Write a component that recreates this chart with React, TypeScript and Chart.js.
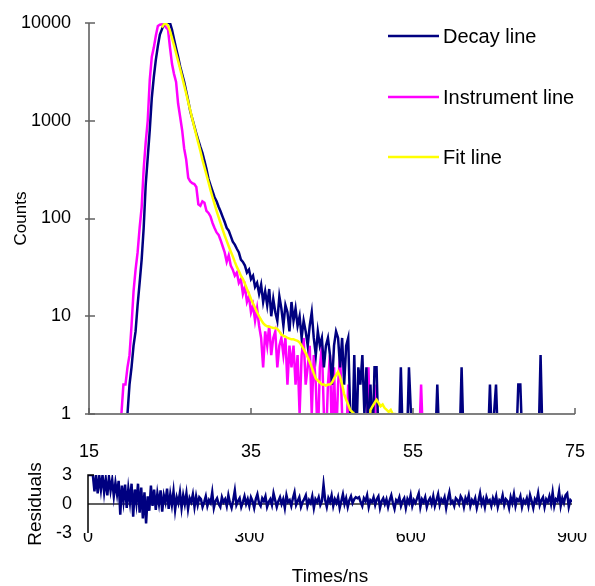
import React, { useEffect, useRef } from "react";
import { Chart, registerables } from "chart.js";

Chart.register(...registerables);

const FONT_FAMILY = "'Liberation Sans', Arial, Helvetica, sans-serif";

// ---- time axis of the decay panel (ns) ----
const TIME_STEP_NS = 0.25;
const DECAY_START_NS = 19;
const INSTRUMENT_START_NS = 19;
const FIT_START_NS = 24;
const X_TICKS = [15, 35, 55, 75];
const Y_TICKS = [1, 10, 100, 1000, 10000];
// zero counts cannot sit on a log axis: they are drawn just below the floor (clipped)
const LOG_ZERO_FLOOR = 0.5;

// counts, one value per 0.25 ns (rows = 1 ns)
const decayCounts = [
  0, 0, 0, 1,
  2, 3, 5, 7,
  13, 22, 38, 80,
  220, 420, 800, 1700,
  2800, 4200, 5800, 7600,
  8600, 9700, 10000, 10000,
  10000, 8500, 6800, 5500,
  4500, 3600, 3000, 2500,
  2000, 1600, 1250, 1050,
  880, 740, 630, 540,
  470, 390, 320, 255,
  220, 190, 165, 150,
  132, 118, 104, 92,
  80, 75, 66, 58,
  54, 49, 45, 38,
  36, 33, 28, 30,
  24, 26, 20, 22,
  17, 21, 14, 18,
  13, 19, 10, 15,
  11, 9, 16, 12,
  8, 13, 11, 7,
  14, 9, 12, 8,
  10, 6, 9, 7,
  5, 8, 11, 6,
  4, 7, 5, 6,
  3, 5, 6, 4,
  2, 5, 7, 6,
  3, 6, 2, 5,
  6, 1, 0, 4,
  0, 3, 2, 4,
  1, 3, 0, 2,
  0, 3, 3, 0,
  0, 0, 0, 1,
  0, 0, 0, 0,
  0, 0, 3, 0,
  0, 0, 3, 1,
  0, 0, 0, 0,
  0, 0, 0, 0,
  0, 0, 0, 0,
  2, 0, 0, 0,
  0, 0, 0, 0,
  0, 0, 0, 0,
  3, 0, 0, 0,
  0, 0, 0, 0,
  0, 0, 0, 0,
  0, 0, 2, 0,
  1, 2, 0, 0,
  0, 0, 0, 0,
  0, 0, 0, 0,
  2, 2, 0, 0,
  0, 0, 0, 0,
  0, 0, 0, 4,
  0, 0, 0, 0,
  0, 0, 0, 0,
  0, 0, 0, 0,
  0, 0, 0, 1,
  0,
];

const instrumentCounts = [
  1, 2, 2, 3,
  4, 8, 18, 30,
  45, 80, 130, 320,
  600, 1000, 2600, 4500,
  5600, 7400, 9300, 9600,
  9700, 9600, 9000, 8600,
  5600, 3800, 3000, 2500,
  1500, 1100, 800, 520,
  400, 260, 240, 230,
  225, 210, 140, 135,
  150, 145, 120, 114,
  105, 90, 80, 72,
  68, 60, 52, 45,
  36, 42, 33, 30,
  26, 28, 22, 24,
  17, 20, 14, 16,
  11, 13, 9, 12,
  8, 6, 3, 7,
  5, 8, 4, 6,
  7, 3, 5, 6,
  4, 6, 2, 5,
  3, 5, 2, 4,
  1, 4, 6, 2,
  3, 5, 1, 4,
  2, 0, 3, 5,
  1, 0, 2, 4,
  0, 3, 0, 2,
  4, 1, 0, 0,
  2, 0, 0, 0,
  0, 0, 0, 0,
  0, 0, 3, 0,
  0, 2, 0, 0,
  0, 0, 0, 0,
  0, 0, 0, 0,
  0, 0, 0, 0,
  0, 0, 0, 0,
  0, 0, 0, 0,
  2, 0, 0, 0,
  0,
];

const fitCounts = [
  9000, 9700, 9900, 9400,
  8300, 7000, 5900, 4900,
  4100, 3400, 2800, 2300,
  1900, 1550, 1280, 1050,
  860, 710, 590, 490,
  400, 335, 280, 235,
  195, 165, 140, 120,
  103, 89, 77, 67,
  59, 52, 46, 41,
  36, 32, 29, 26,
  24, 21.5, 19, 17,
  15, 13.5, 12.2, 11,
  10, 9.2, 8.5, 8.1,
  7.9, 7.8, 7.7, 7.6,
  7.6, 7.4, 7.0, 6.5,
  6.3, 6.2, 6.0, 5.9,
  5.8, 5.8, 5.7, 5.6,
  5.4, 5.0, 4.6, 4.2,
  3.8, 3.4, 3.0, 2.6,
  2.3, 2.2, 2.1, 2.0,
  2.0, 1.95, 2.0, 2.0,
  2.1, 2.3, 2.5, 2.7,
  2.4, 2.0, 1.6, 1.4,
  1.25, 1.1, 1.05, 1.0,
  0, 0, 0, 0,
  0, 0, 0, 1.1,
  1.2, 1.3, 1.4, 1.3,
  1.2, 1.25, 1.15, 1.1,
  1.05, 1.1, 1.0, 1.0,
  0,
];

// ---- residuals panel (channels, one value every 3 channels, rows = 30 channels) ----
const RES_CHANNEL_STEP = 3;
const RES_X_TICKS = [0, 300, 600, 900];
const RES_Y_TICKS = [-3, 0, 3];
const residuals = [
  3, 3, 3, 3, 1.3, 3, 1.1, 2.9, 1.5, 3,
  1.2, 2.6, 0.9, 2.8, 1.4, 2.5, 0.8, 2.2, 1.0, 2.4,
  -1.1, 1.9, 0.3, 2.0, -0.4, 1.6, 0.2, 2.1, -1.3, 1.5,
  0.1, 2.1, -0.9, 1.7, -1.5, 1.2, -2.0, 0.8, -0.7, 1.9,
  -0.2, 1.5, -0.6, 1.1, 0.0, 1.4, -0.8, 0.9, 0.2, 1.6,
  -0.5, 1.0, -0.1, 1.3, -0.6, 0.7, 0.1, 1.2, -0.4, 0.9,
  0.0, 1.1, -0.5, 0.6, 0.2, 1.0, -0.3, 0.8, -0.1, 0.7,
  0.5, -0.3, 0.2, 0.8, -0.2, 0.4, 0.1, 1.2, -0.4, 0.3,
  0.6, 0.0, -0.3, 0.7, 0.2, 0.5, -0.2, 0.9, 0.1, -0.4,
  0.4, 1.4, -0.1, 0.3, 0.6, -0.3, 0.2, 0.8, 0.0, 0.5,
  -0.2, 0.7, 0.3, -0.4, 0.5, 1.0, 0.1, -0.2, 0.6, 0.3,
  0.8, -0.3, 0.2, 0.5, -0.1, 1.1, 0.4, -0.3, 0.3, 0.7,
  0.0, 0.5, -0.4, 0.9, 0.2, 0.4, -0.2, 0.6, 1.2, -0.1,
  0.3, 0.7, -0.3, 0.2, 0.5, 0.9, -0.2, 0.4, 0.1, 0.8,
  -0.4, 0.5, 0.2, 0.7, -0.1, 0.3, 2.0, 0.4, -0.3, 0.6,
  0.2, 0.9, -0.2, 0.5, 0.1, 0.7, -0.4, 0.3, 1.0, 0.0,
  0.6, -0.3, 0.4, 0.8, 0.1, 0.5, 0.7, 0.6, 0.7, 0.2,
  -0.2, 0.6, 0.3, 0.9, -0.3, 0.4, 0.2, 0.7, -0.1, 0.5,
  0.8, -0.4, 0.3, 0.6, 0.0, 0.5, -0.3, 0.4, 0.9, 0.1,
  -0.5, 0.4, 0.2, 0.7, -0.2, 0.3, 0.6, -0.4, 0.5, 0.1,
  0.9, -0.2, 0.4, 0.1, 0.6, 1.1, -0.3, 0.5, 0.2, 0.7,
  -0.3, 0.3, 0.6, 0.0, 0.8, -0.2, 0.4, 1.0, -0.1, 0.5,
  0.2, 0.7, -0.4, 0.5, 1.2, 0.1, 0.3, -0.2, 0.6, 0.4,
  0.0, 0.8, 0.5, -0.3, 0.6, 0.2, 0.9, -0.2, 0.4, 0.1,
  0.6, -0.4, 0.3, 1.1, 0.0, 0.5, -0.3, 0.7, 0.2, 0.4,
  -0.2, 0.6, 0.1, 0.8, -0.3, 0.4, 0.2, 0.9, -0.1, 0.5,
  0.3, -0.4, 0.7, 0.1, 1.0, -0.2, 0.5, 0.3, 0.8, -0.3,
  0.4, 0.1, 0.6, -0.2, 0.9, 0.3, -0.4, 0.5, 0.2, 1.1,
  -0.1, 0.4, 0.7, -0.3, 0.5, 0.2, 0.8, 0.0, 1.2, -0.2,
  0.5, 0.3, 1.3, -0.2, 0.6, 0.1, 0.9, 1.1, -0.3, 0.4,
  0.2,
];

const SERIES_NAMES = ["Decay line", "Instrument line", "Fit line"];
const SERIES_COLORS = ["#000080", "#FF00FF", "#FFFF00"];

function toLogPoints(start: number, step: number, values: number[]) {
  return values.map((v, i) => ({ x: start + i * step, y: v > 0 ? v : LOG_ZERO_FLOOR }));
}
function toPoints(start: number, step: number, values: number[]) {
  return values.map((v, i) => ({ x: start + i * step, y: v }));
}

const topAxesPlugin = {
  id: "topAxes",
  afterDatasetsDraw(chart: any) {
    const { ctx, chartArea: ca, scales } = chart;
    ctx.save();
    ctx.strokeStyle = "#808080";
    ctx.lineWidth = 2;
    ctx.beginPath();
    ctx.moveTo(ca.left, ca.top);
    ctx.lineTo(ca.left, ca.bottom);
    ctx.lineTo(ca.right, ca.bottom);
    ctx.stroke();
    ctx.lineWidth = 1.5;
    ctx.strokeStyle = "#606060";
    Y_TICKS.forEach((v) => {
      const y = Math.round(scales.y.getPixelForValue(v));
      ctx.beginPath();
      ctx.moveTo(ca.left - 4, y);
      ctx.lineTo(ca.left + 6, y);
      ctx.stroke();
    });
    X_TICKS.forEach((v) => {
      const x = Math.round(scales.x.getPixelForValue(v));
      ctx.beginPath();
      ctx.moveTo(x, ca.bottom);
      ctx.lineTo(x, ca.bottom - 6);
      ctx.stroke();
    });
    // legend
    const legendY = [36, 97, 157];
    ctx.font = `20px ${FONT_FAMILY}`;
    ctx.textBaseline = "middle";
    ctx.textAlign = "left";
    SERIES_NAMES.forEach((name, i) => {
      ctx.strokeStyle = SERIES_COLORS[i];
      ctx.lineWidth = 2.5;
      ctx.beginPath();
      ctx.moveTo(388, legendY[i]);
      ctx.lineTo(439, legendY[i]);
      ctx.stroke();
      ctx.fillStyle = "#000";
      ctx.fillText(name, 443, legendY[i] + 1);
    });
    ctx.restore();
  },
};

const resAxesPlugin = {
  id: "resAxes",
  beforeDatasetsDraw(chart: any) {
    const { ctx, chartArea: ca, scales } = chart;
    const y0 = Math.round(scales.y.getPixelForValue(0));
    ctx.save();
    ctx.strokeStyle = "#606060";
    ctx.lineWidth = 2;
    ctx.beginPath();
    ctx.moveTo(ca.left, y0);
    ctx.lineTo(ca.right, y0);
    ctx.stroke();
    ctx.restore();
  },
  afterDatasetsDraw(chart: any) {
    const { ctx, chartArea: ca, scales } = chart;
    const yTop = Math.round(scales.y.getPixelForValue(3));
    ctx.save();
    ctx.strokeStyle = "#000";
    ctx.lineWidth = 1.5;
    ctx.beginPath();
    ctx.moveTo(ca.left + 6, yTop);
    ctx.lineTo(ca.left, yTop);
    ctx.lineTo(ca.left, ca.bottom);
    ctx.stroke();
    ctx.restore();
  },
};

export default function App() {
  const topRef = useRef<HTMLCanvasElement | null>(null);
  const resRef = useRef<HTMLCanvasElement | null>(null);

  useEffect(() => {
    const tickFont = { family: FONT_FAMILY, size: 18 };
    const top = new Chart(topRef.current as HTMLCanvasElement, {
      type: "line",
      data: {
        datasets: [
          {
            label: SERIES_NAMES[2],
            data: toLogPoints(FIT_START_NS, TIME_STEP_NS, fitCounts),
            borderColor: SERIES_COLORS[2],
            borderWidth: 2.5,
            pointRadius: 0,
            order: 0,
          },
          {
            label: SERIES_NAMES[0],
            data: toLogPoints(DECAY_START_NS, TIME_STEP_NS, decayCounts),
            borderColor: SERIES_COLORS[0],
            borderWidth: 2.5,
            pointRadius: 0,
            order: 1,
          },
          {
            label: SERIES_NAMES[1],
            data: toLogPoints(INSTRUMENT_START_NS, TIME_STEP_NS, instrumentCounts),
            borderColor: SERIES_COLORS[1],
            borderWidth: 2.5,
            pointRadius: 0,
            order: 2,
          },
        ],
      },
      options: {
        responsive: false,
        animation: false,
        events: [],
        layout: { padding: { left: 0, right: 20, top: 23, bottom: 0 } },
        elements: { line: { tension: 0 } },
        plugins: { legend: { display: false }, tooltip: { enabled: false } },
        scales: {
          x: {
            type: "linear",
            min: 15,
            max: 75,
            afterBuildTicks: (s: any) => {
              s.ticks = X_TICKS.map((v) => ({ value: v }));
            },
            grid: { display: false, drawTicks: true, tickLength: 27 },
            border: { display: false },
            ticks: {
              padding: 0,
              font: tickFont,
              color: "#000",
              maxRotation: 0,
              autoSkip: false,
              callback: (v: any) => String(v),
            },
            afterFit: (s: any) => {
              s.height = 56;
            },
          },
          y: {
            type: "logarithmic",
            min: 1,
            max: 10000,
            afterBuildTicks: (s: any) => {
              s.ticks = Y_TICKS.map((v) => ({ value: v }));
            },
            grid: { display: false, drawTicks: true, tickLength: 18 },
            border: { display: false },
            ticks: {
              padding: 0,
              font: tickFont,
              color: "#000",
              autoSkip: false,
              callback: (v: any) => String(v),
            },
            title: {
              display: true,
              text: "Counts",
              color: "#000",
              font: { family: FONT_FAMILY, size: 17 },
              padding: { top: 11, bottom: 0 },
            },
            afterFit: (s: any) => {
              s.width = 89;
            },
          },
        },
      },
      plugins: [topAxesPlugin],
    } as any);

    const res = new Chart(resRef.current as HTMLCanvasElement, {
      type: "line",
      data: {
        datasets: [
          {
            label: "Residuals",
            data: toPoints(0, RES_CHANNEL_STEP, residuals),
            borderColor: "#000080",
            borderWidth: 2.5,
            pointRadius: 0,
          },
        ],
      },
      options: {
        responsive: false,
        animation: false,
        events: [],
        layout: { padding: { left: 0, right: 23, top: 35, bottom: 0 } },
        elements: { line: { tension: 0 } },
        plugins: { legend: { display: false }, tooltip: { enabled: false } },
        scales: {
          x: {
            type: "linear",
            min: 0,
            max: 900,
            afterBuildTicks: (s: any) => {
              s.ticks = RES_X_TICKS.map((v) => ({ value: v }));
            },
            grid: { display: false, drawTicks: false },
            border: { display: false },
            ticks: {
              padding: -7,
              font: tickFont,
              color: "#000",
              maxRotation: 0,
              autoSkip: false,
              callback: (v: any) => String(v),
            },
            title: {
              display: true,
              text: "Times/ns",
              color: "#000",
              font: { family: FONT_FAMILY, size: 19 },
              padding: { top: 0, bottom: -2 },
            },
            afterFit: (s: any) => {
              s.height = 53;
            },
          },
          y: {
            type: "linear",
            min: -3,
            max: 3,
            afterBuildTicks: (s: any) => {
              s.ticks = RES_Y_TICKS.map((v) => ({ value: v }));
            },
            grid: { display: false, drawTicks: false },
            border: { display: false },
            ticks: {
              padding: 16,
              font: tickFont,
              color: "#000",
              autoSkip: false,
              callback: (v: any) => String(v),
            },
            title: {
              display: true,
              text: "Residuals",
              color: "#000",
              font: { family: FONT_FAMILY, size: 19 },
              padding: { top: 24, bottom: 0 },
            },
            afterFit: (s: any) => {
              s.width = 88;
            },
          },
        },
      },
      plugins: [resAxesPlugin],
    } as any);

    return () => {
      top.destroy();
      res.destroy();
    };
  }, []);

  return (
    <div
      style={{
        position: "absolute",
        left: 0,
        top: 0,
        width: 595,
        height: 586,
        background: "#fff",
        overflow: "hidden",
      }}
    >
      <canvas
        ref={topRef}
        width={595}
        height={470}
        style={{ position: "absolute", left: 0, top: 0, width: 595, height: 470 }}
      />
      <canvas
        ref={resRef}
        width={595}
        height={146}
        style={{ position: "absolute", left: 0, top: 440, width: 595, height: 146 }}
      />
    </div>
  );
}
